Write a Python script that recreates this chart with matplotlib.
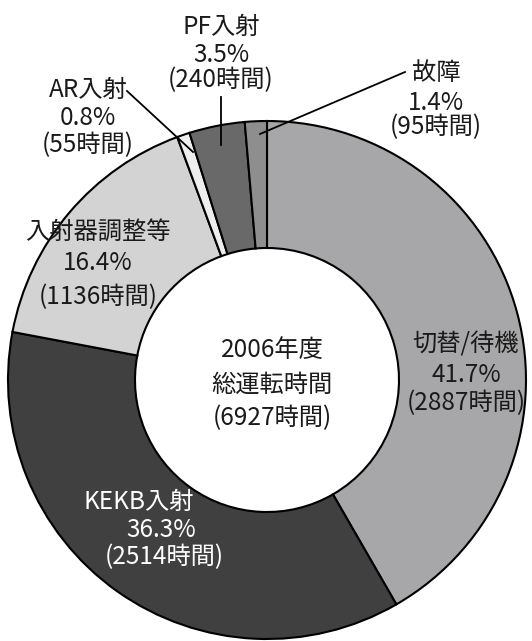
import matplotlib
matplotlib.use('Agg')
import matplotlib.pyplot as plt

plt.rcParams['font.family'] = ['Noto Sans CJK JP', 'DejaVu Sans']

# データ (2006年度 運転時間内訳)
names = ['切替/待機', 'KEKB入射', '入射器調整等', 'AR入射', 'PF入射', '故障']
hours = [2887, 2514, 1136, 55, 240, 95]
percents = ['41.7%', '36.3%', '16.4%', '0.8%', '3.5%', '1.4%']
colors = ['#a7a7a9', '#404040', '#d3d3d3', '#eeeeee', '#696969', '#8e8e8e']
total_hours = 6927

W, H = 532, 641
fig = plt.figure(figsize=(W / 100, H / 100), dpi=100)
ax = fig.add_axes([0, 0, 1, 1])

# 画像座標(y下向き) -> データ座標
def yy(y):
    return H - y

cx, cy, R, w = 267, 380, 259, 127
ax.pie(hours, startangle=90, counterclock=False, colors=colors,
       radius=R, center=(cx, yy(cy)),
       wedgeprops=dict(width=w, edgecolor='black', linewidth=1.5))
ax.set_xlim(0, W)
ax.set_ylim(0, H)
ax.set_aspect('equal')
ax.axis('off')

fs = 17.5
tc = '#1a1a1a'

def label(x, ys, lines, color=tc, xs=None):
    for i, (y, s) in enumerate(zip(ys, lines)):
        xx = x if xs is None else xs[i]
        ax.text(xx, yy(y), s, ha='center', va='center', fontsize=fs, color=color)

def lines_for(i):
    return [names[i], percents[i], '(%d時間)' % hours[i]]

# 内側ラベル
label(466, [345, 375, 403], lines_for(0))
label(0, [502, 530, 557], lines_for(1), color='white', xs=[139, 161, 164])
label(98, [232, 263, 297], lines_for(2))

# 外側ラベル + 引き出し線
label(88, [90, 118, 145], lines_for(3))
ax.plot([127, 193], [yy(91), yy(152)], color='black', lw=1.3)
label(221, [27, 55, 80], lines_for(4))
ax.plot([221, 221], [yy(97), yy(145)], color='black', lw=1.3)
label(436, [73, 103, 127], lines_for(5))
ax.plot([405, 260], [yy(72), yy(134)], color='black', lw=1.3)

# 中央
label(272, [350, 385, 418], ['2006年度', '総運転時間', '(%d時間)' % total_hours])

fig.savefig('out.png', dpi=100)
